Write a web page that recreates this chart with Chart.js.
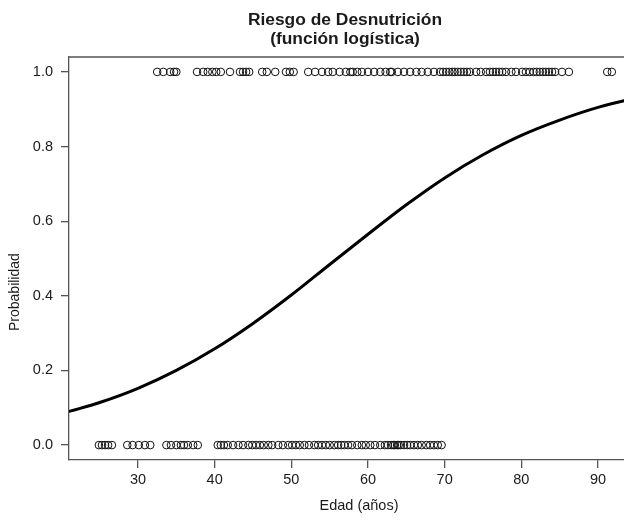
<!DOCTYPE html>
<html>
<head>
<meta charset="utf-8">
<script src="https://cdn.jsdelivr.net/npm/chart.js@4.4.1/dist/chart.umd.min.js"></script>
<style>
  html, body { margin: 0; padding: 0; background: #ffffff; overflow: hidden; width: 624px; height: 520px; }
  #wrap { width: 690px; height: 520px; }
</style>
</head>
<body>
<div id="wrap"><canvas id="c" width="690" height="520"></canvas></div>
<script>
// ---- data ----
const titleLines = ["Riesgo de Desnutrición", "(función logística)"];
const xTitle = "Edad (años)";
const yTitle = "Probabilidad";
const xTicks = [30, 40, 50, 60, 70, 80, 90];
const yTicks = [0.0, 0.2, 0.4, 0.6, 0.8, 1.0];

// observed ages with outcome 1 (malnutrition)
const agesYes = [32.5, 33.3, 34.2, 34.7, 35.0,
  37.7, 38.5, 39.1, 39.7, 40.2, 40.8, 42.0, 43.3, 43.7, 44.1, 44.5,
  46.2, 46.8, 47.9, 49.3, 49.8, 50.3, 52.2,
  53.1, 54.0, 54.8, 55.4, 56.3, 57.1, 57.7, 58.0, 58.6, 59.2, 60.0, 60.8,
  61.6, 62.3, 62.9, 63.1, 63.9, 64.7, 65.5, 66.3, 67.0,
  67.8, 68.6, 69.4, 69.8, 70.2, 70.6, 71.0, 71.3, 71.7, 72.1, 72.5, 72.9, 73.3,
  74.1, 74.7, 75.4, 75.9, 76.3, 76.7, 77.1, 77.5, 78.0, 78.7, 79.3,
  80.1, 80.6, 81.1, 81.6, 82.0, 82.4, 82.8, 83.2, 83.6, 84.0, 84.4,
  85.3, 86.2, 91.2, 91.8];

// observed ages with outcome 0
const agesNo = [24.9, 25.3, 25.7, 26.1, 26.6,
  28.6, 29.3, 30.1, 30.9, 31.6,
  33.7, 34.3, 35.0, 35.6, 36.0, 36.5, 37.2, 37.8,
  40.4, 40.8, 41.2, 41.7, 42.4, 43.1, 43.7, 44.4, 44.9, 45.4, 45.9, 46.4,
  47.0, 47.5, 48.3, 48.9, 49.6, 50.1, 50.6, 51.1, 51.7, 52.3, 53.0, 53.5,
  54.0, 54.5, 55.0, 55.6, 56.1, 56.5, 56.9, 57.4, 57.9, 58.6, 59.2, 59.7,
  60.3, 60.9, 61.6, 62.2, 62.6, 63.0, 63.3, 63.5, 63.8, 64.0, 64.3, 64.7,
  65.1, 65.5, 66.0, 66.5, 67.0, 67.6, 68.1, 68.6, 69.1, 69.6];

// fitted logistic curve, read at regular ages
const curveAges = [21, 25, 30, 35, 40, 45, 50, 55, 60, 65, 70, 75, 80, 85, 90, 95, 97];
const curveProb = [0.090, 0.114, 0.152, 0.200, 0.258, 0.326, 0.402, 0.484,
                   0.565, 0.644, 0.716, 0.778, 0.830, 0.871, 0.905, 0.930, 0.938];

// ---- chart ----
const axisColor = '#555555';
const textColor = '#1a1a1a';
const fontFamily = '"Liberation Sans", Arial, Helvetica, sans-serif';

const frame = {
  id: 'frame',
  afterDraw(chart) {
    const {ctx, chartArea} = chart;
    ctx.save();
    ctx.strokeStyle = axisColor;
    ctx.lineWidth = 1.3;
    ctx.beginPath();
    ctx.moveTo(chartArea.left, chartArea.top);
    ctx.lineTo(chartArea.right, chartArea.top);
    ctx.lineTo(chartArea.right, chartArea.bottom);
    ctx.stroke();
    // y-axis label, placed where the reference shows it (slightly below centre)
    const ys = chart.scales.y;
    ctx.fillStyle = textColor;
    ctx.font = '14px ' + fontFamily;
    ctx.textAlign = 'center';
    ctx.textBaseline = 'middle';
    ctx.translate(ys.left + 15, ys.getPixelForValue(0.41));
    ctx.rotate(-Math.PI / 2);
    ctx.fillText(yTitle, 0, 0);
    ctx.restore();
  }
};

new Chart(document.getElementById('c'), {
  type: 'scatter',
  data: {
    datasets: [
      {
        type: 'line',
        data: curveAges.map((a, i) => ({x: a, y: curveProb[i]})),
        borderColor: '#000000',
        borderWidth: 3,
        pointRadius: 0,
        fill: false,
        cubicInterpolationMode: 'monotone',
        order: 0
      },
      {
        data: agesYes.map(a => ({x: a, y: 1})),
        pointStyle: 'circle',
        pointRadius: 3.8,
        pointBorderWidth: 1,
        pointBorderColor: '#111111',
        pointBackgroundColor: 'rgba(0,0,0,0)',
        showLine: false,
        order: 1
      },
      {
        data: agesNo.map(a => ({x: a, y: 0})),
        pointStyle: 'circle',
        pointRadius: 3.8,
        pointBorderWidth: 1,
        pointBorderColor: '#111111',
        pointBackgroundColor: 'rgba(0,0,0,0)',
        showLine: false,
        order: 1
      }
    ]
  },
  options: {
    responsive: false,
    animation: false,
    devicePixelRatio: 1,
    layout: { autoPadding: false, padding: 0 },
    plugins: {
      legend: { display: false },
      tooltip: { enabled: false },
      title: {
        display: true,
        text: titleLines,
        fullSize: true,
        color: textColor,
        font: { family: fontFamily, size: 17.4, weight: 'bold', lineHeight: 1.1 },
        padding: { top: 10.4, bottom: 8.3 }
      }
    },
    scales: {
      x: {
        type: 'linear',
        min: 21,
        max: 96.65,
        afterBuildTicks: s => { s.ticks = xTicks.map(v => ({value: v})); },
        afterFit: s => { s.height = 60; },
        grid: { drawOnChartArea: false, drawTicks: true, tickLength: 8, color: axisColor, lineWidth: 1.3 },
        border: { display: true, color: axisColor, width: 1.3 },
        ticks: { color: textColor, padding: 3, font: { family: fontFamily, size: 14.5 }, maxRotation: 0 },
        title: { display: true, text: xTitle, color: textColor,
                 font: { family: fontFamily, size: 14.5, lineHeight: 1.2 },
                 padding: { top: 0, bottom: 5 } }
      },
      y: {
        type: 'linear',
        min: -0.04,
        max: 1.04,
        afterBuildTicks: s => { s.ticks = yTicks.map(v => ({value: v})); },
        afterFit: s => { s.width = 69; },
        grid: { drawOnChartArea: false, drawTicks: true, tickLength: 8, color: axisColor, lineWidth: 1.3 },
        border: { display: true, color: axisColor, width: 1.3 },
        ticks: { color: textColor, padding: 8, font: { family: fontFamily, size: 14.5 },
                 callback: v => Number(v).toFixed(1) },
        title: { display: false, text: yTitle }
      },
      // empty right-hand margin (outer figure margin, off-screen)
      yMargin: {
        type: 'linear',
        position: 'right',
        min: 0,
        max: 1,
        afterFit: s => { s.width = 41; },
        grid: { display: false },
        border: { display: false },
        ticks: { display: false }
      }
    }
  },
  plugins: [frame]
});
</script>
</body>
</html>
